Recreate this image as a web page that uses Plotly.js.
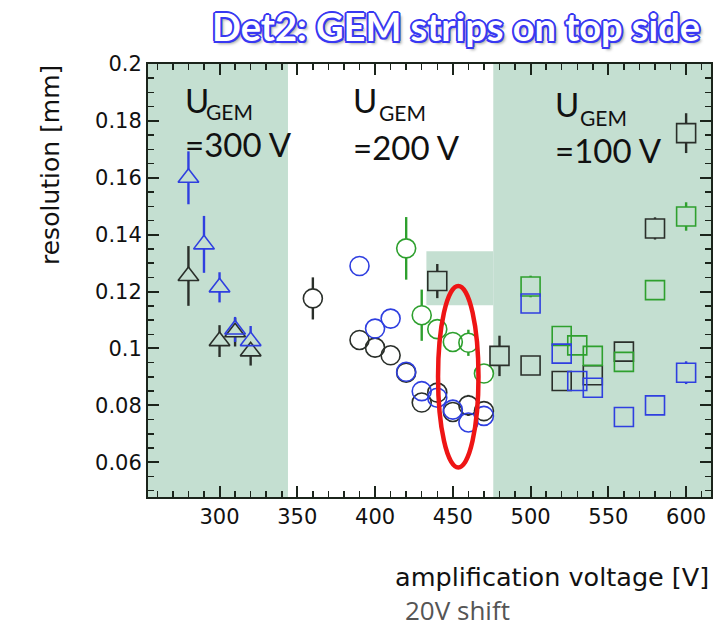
<!DOCTYPE html>
<html><head><meta charset="utf-8">
<script src="https://cdn.plot.ly/plotly-3.0.1.min.js"></script>
<style>html,body{margin:0;padding:0;background:#fff;} #chart{width:721px;height:628px;}</style>
</head><body><div id="chart"></div>
<script>
// ---------- data ----------
const triBlackV = [280, 300, 310, 320];
const triBlackR = [0.1255, 0.1026, 0.1057, 0.0990];
const triBlackE = [0.0105, 0.0056, 0.0050, 0.0050];

const triBlueV = [280, 290, 300, 310, 320];
const triBlueR = [0.1600, 0.1366, 0.1215, 0.1067, 0.1026];
const triBlueE = [0.0093, 0.0100, 0.0053, 0.0044, 0.0053];

const cirBlackV = [360, 390, 400, 410, 420, 430, 440, 450, 460, 470];
const cirBlackR = [0.1176, 0.1030, 0.1003, 0.0976, 0.0915, 0.0810, 0.0845, 0.0777, 0.0800, 0.0780];
const cirBlackE = [0.0074, 0, 0, 0, 0, 0, 0, 0, 0.0037, 0];

const cirBlueV = [390, 400, 410, 420, 430, 440, 450, 460, 470];
const cirBlueR = [0.1290, 0.1070, 0.1105, 0.0918, 0.0850, 0.0827, 0.0785, 0.0740, 0.0763];
const cirBlueE = [0, 0, 0, 0, 0, 0, 0, 0, 0];

const cirGreenV = [420, 430, 440, 450, 460, 470];
const cirGreenR = [0.1352, 0.1117, 0.1068, 0.1023, 0.1020, 0.0912];
const cirGreenE = [0.0110, 0.0090, 0, 0, 0.0046, 0];

const sqBlackV = [440, 480, 500, 520, 540, 560, 580, 600];
const sqBlackR = [0.1237, 0.0974, 0.0940, 0.0886, 0.0906, 0.0989, 0.1422, 0.1757];
const sqBlackE = [0.0060, 0.0071, 0, 0, 0, 0, 0.0039, 0.0070];

const sqGreenV = [500, 520, 530, 540, 560, 580, 600];
const sqGreenR = [0.1218, 0.1044, 0.1011, 0.0974, 0.0953, 0.1205, 0.1464];
const sqGreenE = [0.0038, 0, 0, 0, 0, 0, 0.0050];

const sqBlueV = [500, 520, 530, 540, 560, 580, 600];
const sqBlueR = [0.1158, 0.0982, 0.0886, 0.0862, 0.0759, 0.0800, 0.0915];
const sqBlueE = [0, 0, 0, 0, 0, 0, 0.0040];

// axis ticks
const xTickVals = [300, 350, 400, 450, 500, 550, 600];
const xTickText = ['300', '350', '400', '450', '500', '550', '600'];
const yTickVals = [0.06, 0.08, 0.10, 0.12, 0.14, 0.16, 0.18, 0.20];
const yTickText = ['0.06', '0.08', '0.1', '0.12', '0.14', '0.16', '0.18', '0.2'];
const xRange = [254, 616];
const yRange = [0.0478, 0.2];

// shaded regions (U_GEM domains)
const shadeLeftX = [254, 344];
const shadeRightX = [476, 616];
const shadeStepX = [433, 476];
const shadeStepY = [0.1152, 0.1342];

// highlighted ellipse
const ellipseX = [440.5, 466.5];
const ellipseY = [0.0582, 0.1220];

// ---------- styling ----------
const SHADE = '#c4dfd1';
const BLACK = '#2a2f2a';
const BLUE = '#2f3fe0';
const GREEN = '#2ea02e';

function bgAt(v, r) {
  if (v <= shadeLeftX[1]) return SHADE;
  if (v >= shadeRightX[0]) return SHADE;
  if (v >= shadeStepX[0] && v <= shadeStepX[1] && r >= shadeStepY[0] && r <= shadeStepY[1]) return SHADE;
  return '#ffffff';
}

const errTraces = [], fillTraces = [], openTraces = [];
function addSeries(xs, ys, es, sym, color, size) {
  errTraces.push({
    type: 'scatter', mode: 'markers', x: xs, y: ys, hoverinfo: 'skip',
    marker: {size: 2, color: 'rgba(0,0,0,0)', line: {width: 0}},
    error_y: {type: 'data', array: es, visible: true, color: color, thickness: 2.4, width: 0}
  });
  const fx = [], fy = [], fc = [];
  xs.forEach((v, i) => { if (es[i] > 0) { fx.push(v); fy.push(ys[i]); fc.push(bgAt(v, ys[i])); } });
  fillTraces.push({
    type: 'scatter', mode: 'markers', x: fx, y: fy, hoverinfo: 'skip',
    marker: {symbol: sym, size: size, color: fc, line: {width: 0}}
  });
  openTraces.push({
    type: 'scatter', mode: 'markers', x: xs, y: ys,
    marker: {symbol: sym + '-open', size: size, color: color, line: {width: 1.6, color: color}}
  });
}

addSeries(triBlackV, triBlackR, triBlackE, 'triangle-up', BLACK, 18);
addSeries(triBlueV, triBlueR, triBlueE, 'triangle-up', BLUE, 18);
addSeries(cirBlackV, cirBlackR, cirBlackE, 'circle', BLACK, 19);
addSeries(cirBlueV, cirBlueR, cirBlueE, 'circle', BLUE, 19);
addSeries(cirGreenV, cirGreenR, cirGreenE, 'circle', GREEN, 19);
addSeries(sqBlackV, sqBlackR, sqBlackE, 'square', BLACK, 19);
addSeries(sqGreenV, sqGreenR, sqGreenE, 'square', GREEN, 19);
addSeries(sqBlueV, sqBlueR, sqBlueE, 'square', BLUE, 19);

const data = errTraces.concat(fillTraces, openTraces);

// ---------- layout ----------
const W = 721, H = 628;
const M = {l: 148, r: 10, t: 64, b: 131};
const pxX = p => (p - M.l) / (W - M.l - M.r);
const pxY = p => (H - M.b - p) / (H - M.t - M.b);

const tickFont = {family: 'DejaVu Sans', size: 21, color: '#111'};
const axisCommon = {
  showline: true, linewidth: 2, linecolor: '#1b241b', mirror: 'ticks',
  ticks: 'inside', ticklen: 11, tickwidth: 2, tickcolor: '#1b241b',
  showgrid: false, zeroline: false, tickfont: tickFont
};

const ugemFont = {family: 'Lato', size: 33, color: '#111'};
const subFont = {family: 'Lato', size: 21, color: '#111'};
function ann(text, xp, yp, font, extra) {
  return Object.assign({text: text, xref: 'paper', yref: 'paper', x: pxX(xp), y: pxY(yp),
    xanchor: 'left', yanchor: 'middle', showarrow: false, font: font, borderpad: 0}, extra || {});
}
const outline = '#3838f2';
const shadow = [
  `-2px 0 0 ${outline}`, `2px 0 0 ${outline}`, `0 -2px 0 ${outline}`, `0 2px 0 ${outline}`,
  `-1.5px -1.5px 0 ${outline}`, `1.5px -1.5px 0 ${outline}`, `-1.5px 1.5px 0 ${outline}`, `1.5px 1.5px 0 ${outline}`,
  `3px 3px 3px rgba(0,0,0,0.35)`
].join(', ');

const layout = {
  width: W, height: H,
  margin: M,
  paper_bgcolor: '#ffffff', plot_bgcolor: '#ffffff',
  showlegend: false,
  xaxis: Object.assign({}, axisCommon, {
    range: xRange, tickvals: xTickVals, ticktext: xTickText,
    minor: {dtick: 10, tick0: 300, ticks: 'inside', ticklen: 6, tickwidth: 1.5, tickcolor: '#1b241b'}
  }),
  yaxis: Object.assign({}, axisCommon, {
    range: yRange, tickvals: yTickVals, ticktext: yTickText,
    minor: {dtick: 0.005, tick0: 0, ticks: 'inside', ticklen: 6, tickwidth: 1.5, tickcolor: '#1b241b'}
  }),
  shapes: [
    {type: 'rect', layer: 'below', xref: 'x', yref: 'paper', x0: shadeLeftX[0], x1: shadeLeftX[1], y0: 0, y1: 1, fillcolor: SHADE, line: {width: 0}},
    {type: 'rect', layer: 'below', xref: 'x', yref: 'paper', x0: shadeRightX[0], x1: shadeRightX[1], y0: 0, y1: 1, fillcolor: SHADE, line: {width: 0}},
    {type: 'rect', layer: 'below', xref: 'x', yref: 'y', x0: shadeStepX[0], x1: shadeStepX[1], y0: shadeStepY[0], y1: shadeStepY[1], fillcolor: SHADE, line: {width: 0}},
    {type: 'circle', layer: 'above', xref: 'x', yref: 'y', x0: ellipseX[0], x1: ellipseX[1], y0: ellipseY[0], y1: ellipseY[1], line: {color: '#ee1515', width: 4.5}}
  ],
  annotations: [
    {text: 'Det2: GEM strips on top side', xref: 'paper', yref: 'paper', x: pxX(456), y: pxY(26),
     xanchor: 'center', yanchor: 'middle', showarrow: false,
     font: {family: 'Lato', size: 38, weight: 700, color: '#ffffff', shadow: shadow}},
    ann('U', 184, 100, ugemFont), ann('GEM', 205, 111, subFont), ann('=300 V', 184, 144, ugemFont),
    ann('U', 352, 100, ugemFont), ann('GEM', 378, 113, subFont), ann('=200 V', 352, 146.5, ugemFont),
    ann('U', 554, 104.5, ugemFont), ann('GEM', 579, 117.5, subFont), ann('=100 V', 554, 150, ugemFont),
    {text: 'resolution [mm]', xref: 'paper', yref: 'paper', x: pxX(50), y: pxY(165), textangle: -90,
     xanchor: 'center', yanchor: 'middle', showarrow: false, font: {family: 'DejaVu Sans', size: 25, color: '#111'}},
    {text: 'amplification voltage [V]', xref: 'paper', yref: 'paper', x: pxX(552), y: pxY(577),
     xanchor: 'center', yanchor: 'middle', showarrow: false, font: {family: 'DejaVu Sans', size: 25.5, color: '#111'}},
    {text: '20V shift', xref: 'paper', yref: 'paper', x: pxX(457), y: pxY(610),
     xanchor: 'center', yanchor: 'middle', showarrow: false, borderpad: 0, font: {family: 'Open Sans', size: 26, color: '#555555'}}
  ]
};

Plotly.newPlot('chart', data, layout, {displayModeBar: false, staticPlot: true});
</script>
</body></html>
